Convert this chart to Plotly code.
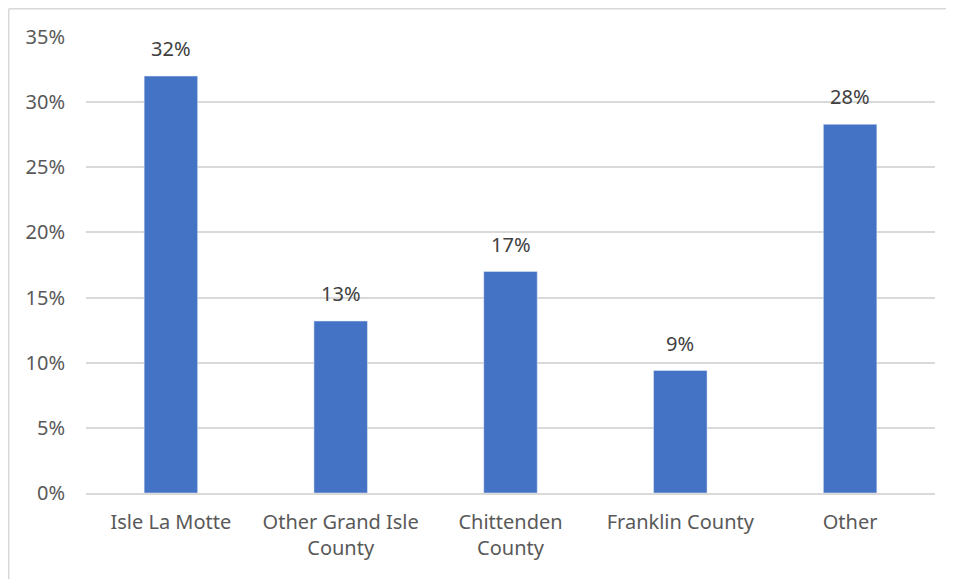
import plotly.graph_objects as go

categories = ["Isle La Motte", "Other Grand Isle<br>County", "Chittenden<br>County", "Franklin County", "Other"]
values = [0.320, 0.132, 0.170, 0.094, 0.283]
labels = ["32%", "13%", "17%", "9%", "28%"]
y_ticks = [0, 0.05, 0.10, 0.15, 0.20, 0.25, 0.30, 0.35]
y_tick_text = ["0%", "5%", "10%", "15%", "20%", "25%", "30%", "35%"]

# page body has an 8px margin, so the figure starts at (8, 8) on screen
W, H = 946, 571
L, R, T, B = 78, 19, 29, 86
pw, ph = W - L - R, H - T - B

fig = go.Figure(go.Bar(
    x=categories, y=values, marker_color="#4472C4", width=0.315,
    hoverinfo="skip",
))

for c, v, t in zip(categories, values, labels):
    fig.add_annotation(x=c, y=v, text=t, showarrow=False, yanchor="bottom",
                       yshift=12, font=dict(size=20, color="#404040"))

# chart-area border (left and top edges visible)
bx0 = (0.75 - L) / pw
by1 = 1 + (T - 0.75) / ph
fig.add_shape(type="line", xref="paper", yref="paper",
              x0=bx0, x1=bx0, y0=-(H - T - ph) / ph, y1=by1,
              line=dict(color="#D9D9D9", width=1.5), layer="below")
fig.add_shape(type="line", xref="paper", yref="paper",
              x0=bx0, x1=(W - L) / pw, y0=by1, y1=by1,
              line=dict(color="#D9D9D9", width=1.5), layer="below")

fig.update_layout(
    width=W, height=H,
    margin=dict(l=L, r=R, t=T, b=B),
    paper_bgcolor="white", plot_bgcolor="white",
    font=dict(family="Noto Sans, Open Sans, sans-serif", size=20, color="#595959"),
    showlegend=False,
    bargap=0.685,
    xaxis=dict(showgrid=False, showline=True, linecolor="#D9D9D9", linewidth=1.5,
               ticks="", ticklabelstandoff=10, tickfont=dict(size=20, color="#595959")),
    yaxis=dict(range=[0, 0.35], tickvals=y_ticks, ticktext=y_tick_text,
               showgrid=True, gridcolor="#D9D9D9", gridwidth=1.5, zeroline=False,
               showline=False, ticks="", ticklabelstandoff=20,
               tickfont=dict(size=20, color="#595959")),
)

fig.write_html("out.html")
